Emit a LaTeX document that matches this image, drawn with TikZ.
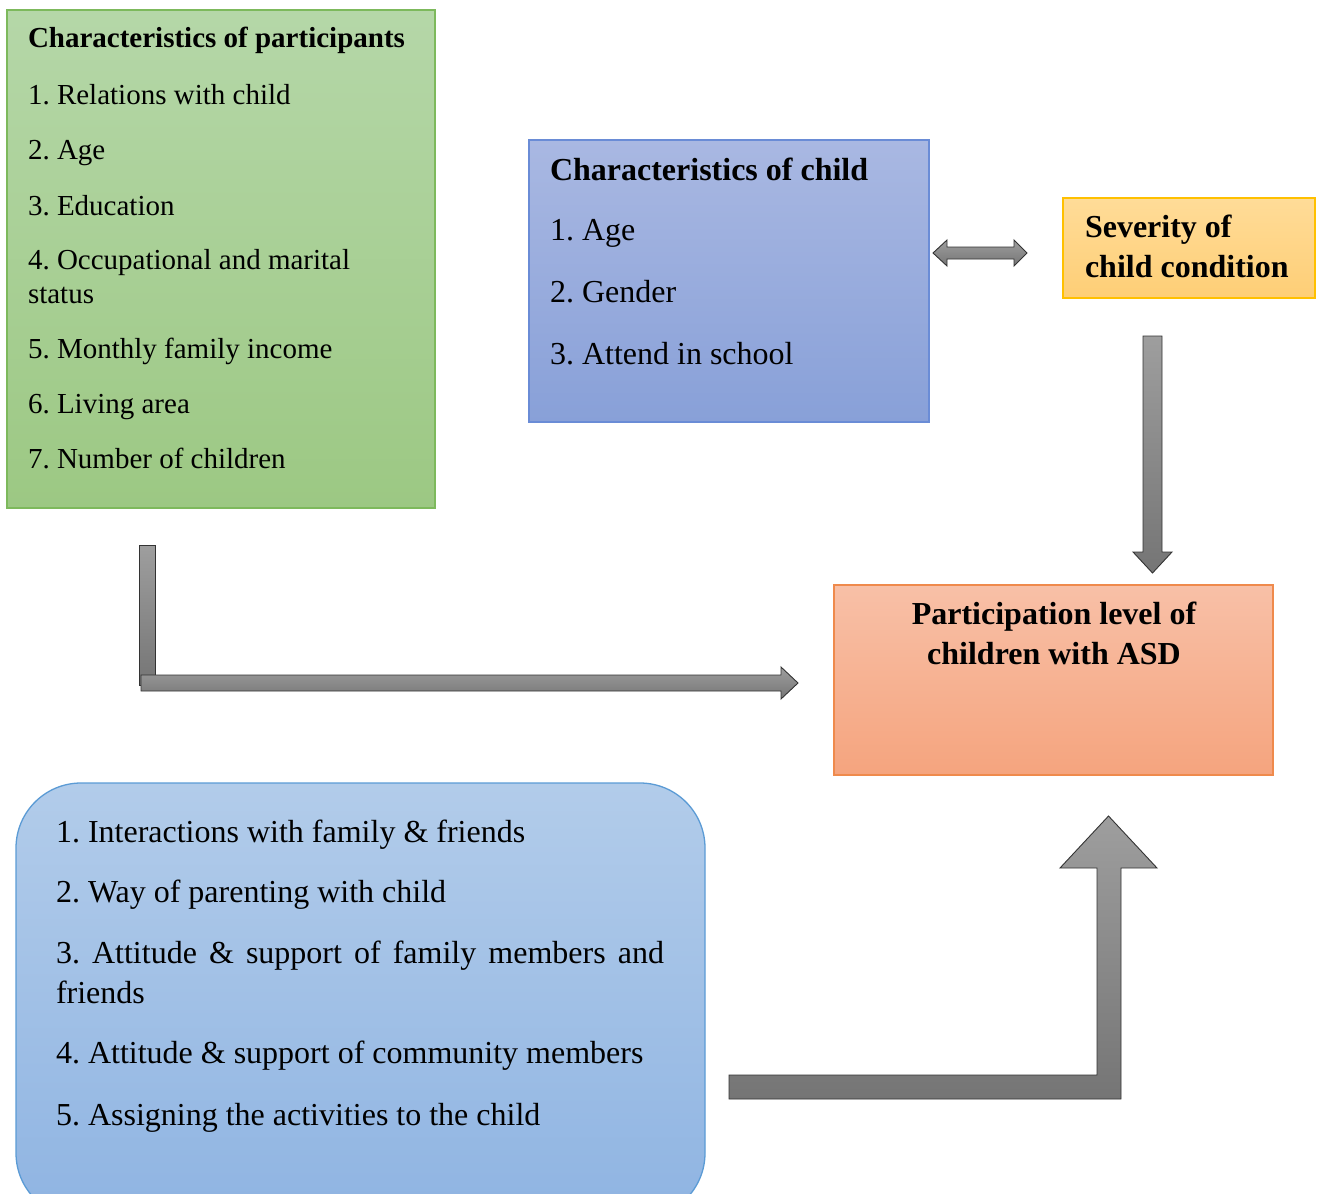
\documentclass[tikz,border=0pt]{standalone}
\usepackage{fontspec}
\setmainfont{Liberation Serif}
\frenchspacing
\definecolor{gtop}{HTML}{B5D7A8}
\definecolor{gbot}{HTML}{9CC883}
\definecolor{gline}{HTML}{7DB95C}
\definecolor{btop}{HTML}{A9B8E2}
\definecolor{bbot}{HTML}{88A0D8}
\definecolor{bline}{HTML}{6A8CD6}
\definecolor{ytop}{HTML}{FFDC98}
\definecolor{ybot}{HTML}{FECE76}
\definecolor{yline}{HTML}{FFC000}
\definecolor{otop}{HTML}{F8C0A7}
\definecolor{obot}{HTML}{F5A47E}
\definecolor{oline}{HTML}{EF8A4C}
\definecolor{ltop}{HTML}{B2CCEA}
\definecolor{lbot}{HTML}{8FB4E2}
\definecolor{lline}{HTML}{5B9BD5}
\definecolor{arrtop}{HTML}{9E9E9E}
\definecolor{arrbot}{HTML}{757575}
\tikzset{
  box/.style={draw, line width=1.3pt, inner sep=0pt, outer sep=0pt, anchor=north west},
  txt/.style={anchor=base west, inner sep=0pt, outer sep=0pt, font=\fontsize{32}{38}\selectfont},
  txtsm/.style={txt, font=\fontsize{29}{34}\selectfont},
  ttl/.style={txt, font=\fontsize{32}{38}\selectfont\bfseries},
  ttlsm/.style={txt, font=\fontsize{29}{34}\selectfont\bfseries},
  blockarrow/.style={draw=black!80, line width=0.9pt, top color=arrtop, bottom color=arrbot},
}
\begin{document}
\begin{tikzpicture}[x=1pt,y=-1pt]
\useasboundingbox (0,0) rectangle (1321,1193);
% boxes
\node[box, draw=gline, top color=gtop, bottom color=gbot, minimum width=428pt, minimum height=498pt] (part) at (7,10) {};
\node[box, draw=bline, top color=btop, bottom color=bbot, minimum width=400pt, minimum height=282pt] (child) at (529,140) {};
\node[box, draw=yline, top color=ytop, bottom color=ybot, minimum width=252pt, minimum height=100pt] (sev) at (1063,198) {};
\node[box, draw=oline, top color=otop, bottom color=obot, minimum width=439pt, minimum height=190pt] (asd) at (834,585) {};
\node[box, draw=lline, top color=ltop, bottom color=lbot, rounded corners=65pt, minimum width=689pt, minimum height=435pt] (env) at (16,783) {};
% participant texts
\node[ttlsm] (pt) at (28,48) {Characteristics of participants};
\node[txtsm] (p1) at (28,105) {1. Relations with child};
\node[txtsm] (p2) at (28,160) {2. Age};
\node[txtsm] (p3) at (28,215) {3. Education};
\node[txtsm] (p4) at (28,269) {4. Occupational and marital};
\node[txtsm] (p4b) at (28,303) {status};
\node[txtsm] (p5) at (28,358) {5. Monthly family income};
\node[txtsm] (p6) at (28,413) {6. Living area};
\node[txtsm] (p7) at (28,468) {7. Number of children};
% child texts
\node[ttl] (ct) at (550,180) {Characteristics of child};
\node[txt] (c1) at (550,240) {1. Age};
\node[txt] (c2) at (550,302) {2. Gender};
\node[txt] (c3) at (550,364) {3. Attend in school};
% severity
\node[ttl] (s1) at (1085,237) {Severity of};
\node[ttl] (s2) at (1085,277) {child condition};
% outcome
\node[ttl, anchor=base] (a1) at (1054,624) {Participation level of};
\node[ttl, anchor=base] (a2) at (1054,664) {children with ASD};
% environment texts
\node[txt] (e1) at (56,842) {1. Interactions with family \& friends};
\node[txt] (e2) at (56,902) {2. Way of parenting with child};
\node[txt] (e3) at (56,963) {\makebox[608pt][s]{3. Attitude \& support of family members and}};
\node[txt] (e3b) at (56,1003) {friends};
\node[txt] (e4) at (56,1063) {4. Attitude \& support of community members};
\node[txt] (e5) at (56,1125) {5. Assigning the activities to the child};
% double arrow child <-> severity
\path[blockarrow] (933,253) -- (947,240) -- (947,247) -- (1014,247) -- (1014,240) -- (1027,253)
  -- (1014,266) -- (1014,259) -- (947,259) -- (947,266) -- cycle;
% severity -> outcome
\path[blockarrow] (1143,336) -- (1162,336) -- (1162,552) -- (1172,552) -- (1152.5,573)
  -- (1133,552) -- (1143,552) -- cycle;
% participants -> outcome (L arrow)
\path[blockarrow] (139,545) rectangle (155,685);
\path[blockarrow] (141,675) -- (781,675) -- (781,667) -- (798,683) -- (781,699) -- (781,691) -- (141,691) -- cycle;
% environment -> outcome (bent up arrow)
\path[blockarrow] (729,1075) -- (1097,1075) -- (1097,868) -- (1060,868) -- (1108.5,816) -- (1157,868)
  -- (1121,868) -- (1121,1099) -- (729,1099) -- cycle;
\end{tikzpicture}
\end{document}
